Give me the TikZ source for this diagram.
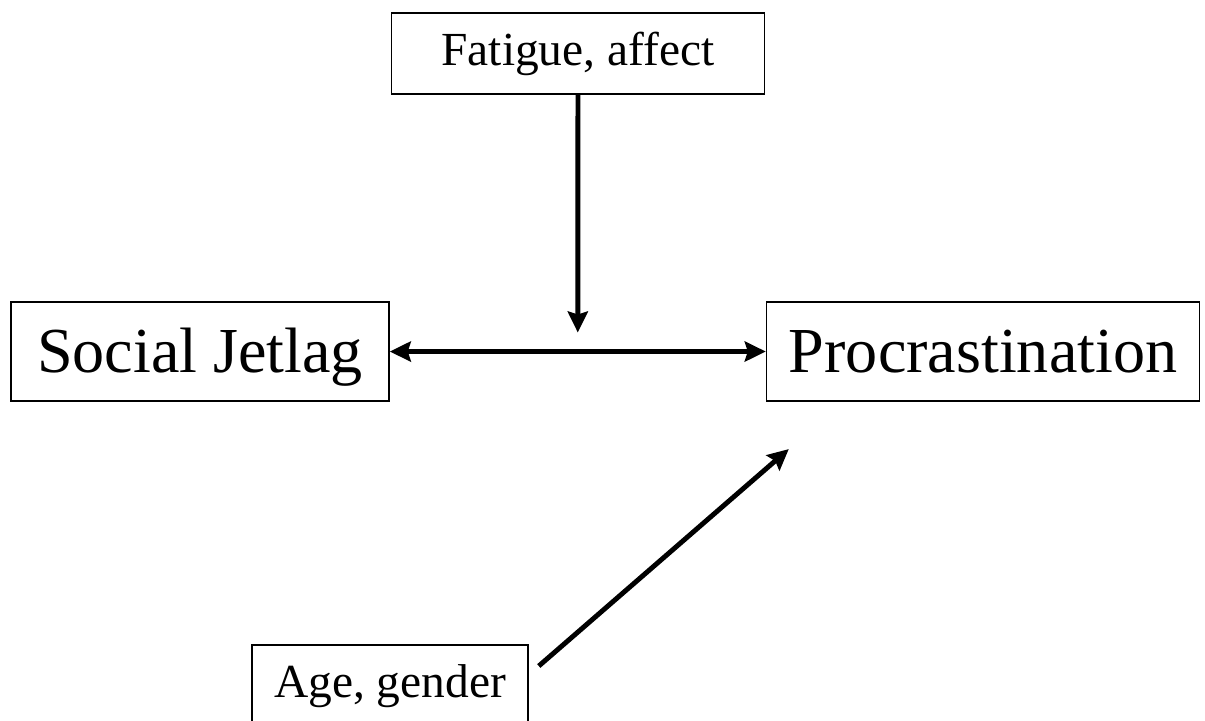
\documentclass[tikz,border=0pt]{standalone}
\usepackage{fontspec}
\setmainfont{Liberation Serif}
\usetikzlibrary{positioning, arrows.meta, calc}

\begin{document}
\begin{tikzpicture}[
  every node/.style={font=\fontsize{27}{31}\selectfont},
  bigbox/.style={draw, line width=0.9pt, inner sep=0pt, text height=1.41cm,
    text depth=0.58cm, font=\fontsize{36.5}{40}\selectfont, align=center},
  smallbox/.style={draw, line width=0.9pt, inner sep=0pt, text height=1.06cm,
    text depth=0.56cm, align=center},
  arr/.style={-{Stealth[length=0.42cm, width=0.4cm, inset=0.06cm]}, line width=2.8pt},
  darr/.style={{Stealth[length=0.42cm, width=0.4cm, inset=0.06cm]}-{Stealth[length=0.42cm, width=0.4cm, inset=0.06cm]}, line width=2.8pt}
]
  \useasboundingbox (0,0) rectangle (24.1,14.4);

  % Main variables
  \node[bigbox, minimum width=7.56cm, anchor=north] (sj) at (4.0,8.38) {Social Jetlag};
  \node[bigbox, minimum width=8.66cm, right=7.52cm of sj] (pr) {Procrastination};

  % Moderator and covariates
  \node[smallbox, minimum width=7.46cm, anchor=north] (fat) at (11.56,14.16) {Fatigue, affect};
  \node[smallbox, minimum width=5.52cm, anchor=north] (age) at (7.8,1.52) {Age, gender};

  % Arrow ends
  \coordinate (mod) at ($(sj.east)!0.5!(pr.west)+(0,0.38)$);
  \coordinate (agestart) at ([xshift=0.2cm, yshift=-0.44cm]age.north east);
  \coordinate (agestop) at ([xshift=0.46cm, yshift=-0.94cm]pr.south west);

  % Arrows
  \draw[darr] (sj) -- (pr);
  \draw[arr] (fat) -- (mod);
  \draw[arr] (agestart) -- (agestop);
\end{tikzpicture}
\end{document}
